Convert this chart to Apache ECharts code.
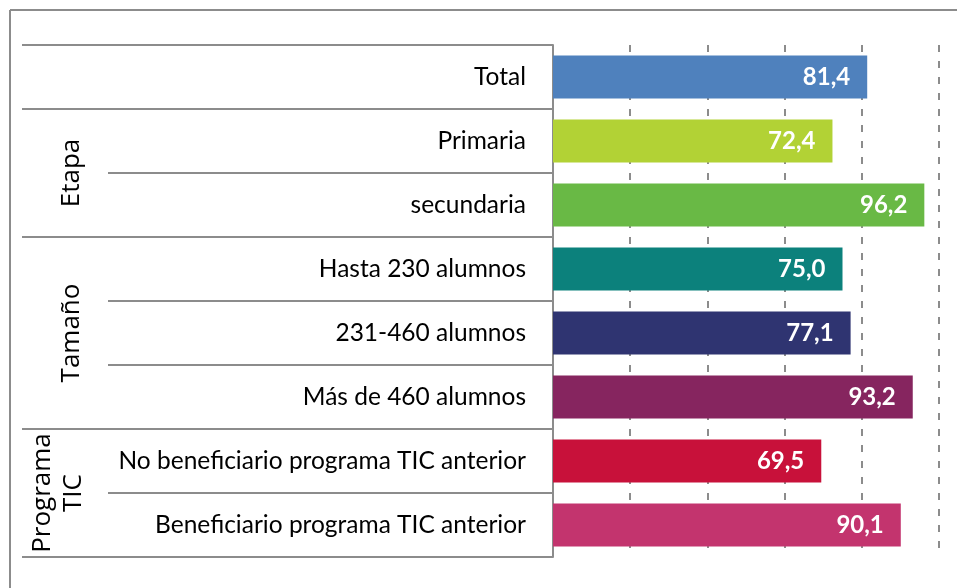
<!DOCTYPE html>
<html><head><meta charset="utf-8">
<script src="https://cdn.jsdelivr.net/npm/echarts@6/dist/echarts.min.js"></script>
<style>html,body{margin:0;padding:0;background:#fff;}#c{width:957px;height:588px;}</style>
</head><body><div id="c"></div>
<script>
var categories = ["Total","Primaria","secundaria","Hasta 230 alumnos","231-460 alumnos","Más de 460 alumnos","No beneficiario programa TIC anterior","Beneficiario programa TIC anterior"];
var values = [81.4, 72.4, 96.2, 75.0, 77.1, 93.2, 69.5, 90.1];
var groups = [
  {name: "", from: 0, to: 0},
  {name: "Etapa", from: 1, to: 2},
  {name: "Tamaño", from: 3, to: 5},
  {name: "Programa\nTIC", from: 6, to: 7}
];
var barColors = ["#4F81BD","#B2D235","#69B945","#0C817C","#2F3471","#86255F","#C8113A","#C3346E"];

var FONT = "Lato";
var GFONT = "'Open Sans', sans-serif";
var chart = echarts.init(document.getElementById('c'), null, {renderer: 'canvas'});
var option = {
  animation: false,
  grid: {left: 553, right: 18, top: 45, bottom: 31, containLabel: false},
  xAxis: {
    type: 'value', min: 0, max: 100, interval: 20,
    axisLabel: {show: false}, axisTick: {show: false}, axisLine: {show: false},
    splitLine: {show: true, lineStyle: {color: '#8c8c8c', width: 2, type: [7, 9]}}
  },
  yAxis: {
    type: 'category', data: categories, inverse: true,
    axisLine: {show: true, lineStyle: {color: '#8c8c8c', width: 2}},
    axisTick: {show: false},
    axisLabel: {color: '#000', fontFamily: FONT, fontSize: 24.5, margin: 27}
  },
  series: [{
    type: 'bar',
    barCategoryGap: '33%',
    data: values.map(function (v, i) { return {value: v, itemStyle: {color: barColors[i]}}; }),
    label: {
      show: true, position: 'insideRight', distance: 17,
      color: '#fff', fontFamily: FONT, fontWeight: 'bold', fontSize: 24,
      formatter: function (p) { return p.value.toFixed(1).replace('.', ','); }
    }
  }]
};
chart.setOption(option);

function buildDecor() {
  var c0 = chart.convertToPixel({yAxisIndex: 0}, 0);
  var c1 = chart.convertToPixel({yAxisIndex: 0}, 1);
  var h = c1 - c0;
  var axisX = chart.convertToPixel({xAxisIndex: 0}, 0);
  var g = [];
  var lineStyle = {stroke: '#8c8c8c', lineWidth: 2};
  g.push({type: 'line', shape: {x1: 10, y1: 10, x2: 960, y2: 10}, style: lineStyle});
  g.push({type: 'line', shape: {x1: 10, y1: 10, x2: 10, y2: 600}, style: lineStyle});
  var groupStarts = {};
  groups.forEach(function (gr) { groupStarts[gr.from] = true; });
  for (var i = 0; i <= categories.length; i++) {
    var y = c0 - h / 2 + i * h;
    var isGroup = groupStarts[i] || i === categories.length;
    g.push({type: 'line', shape: {x1: isGroup ? 22 : 108, y1: y, x2: axisX, y2: y}, style: lineStyle});
  }
  groups.forEach(function (gr) {
    if (!gr.name) return;
    var yc = c0 + ((gr.from + gr.to) / 2) * h;
    var multi = gr.name.indexOf('\n') >= 0;
    g.push({
      type: 'text', x: multi ? 58 : 72, y: yc, rotation: Math.PI / 2,
      style: {text: gr.name, fill: '#000', font: '26px ' + GFONT, align: 'center', verticalAlign: 'middle', lineHeight: 31}
    });
  });
  chart.setOption({graphic: {elements: g}});
}
buildDecor();
</script></body></html>
